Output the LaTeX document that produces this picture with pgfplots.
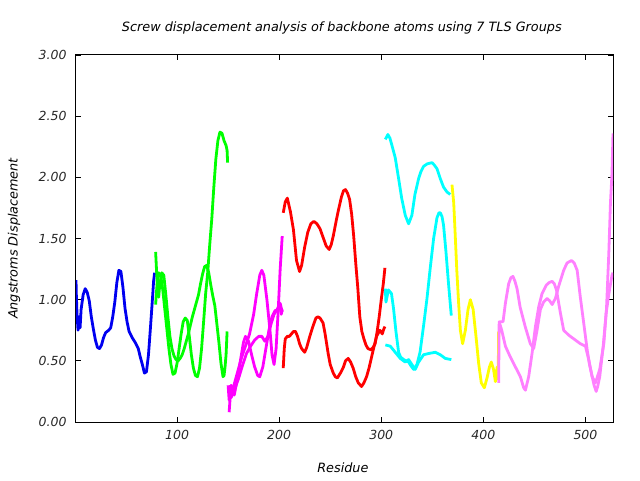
\documentclass[border=0pt]{standalone}
\usepackage{pgfplots}
\pgfplotsset{compat=1.18}
\usepackage{fontspec}
\setmainfont{DejaVu Sans}
\definecolor{tlsblue}{RGB}{0,0,240}
\definecolor{tlsgreen}{RGB}{0,255,0}
\definecolor{tlsmagenta}{RGB}{255,0,255}
\definecolor{tlsred}{RGB}{255,0,0}
\definecolor{tlscyan}{RGB}{0,255,255}
\definecolor{tlsyellow}{RGB}{255,255,0}
\definecolor{tlsviolet}{RGB}{255,128,255}
\begin{document}
\begin{tikzpicture}[x=1pt,y=1pt]
\useasboundingbox (0,0) rectangle (640,480);
\begin{axis}[
  at={(76pt,58pt)}, anchor=south west,
  width=537pt, height=367pt, scale only axis,
  xmin=1, xmax=527, ymin=0, ymax=3,
  xtick={100,200,300,400,500},
  ytick={0,0.5,1,1.5,2,2.5,3},
  yticklabel style={xshift=-6pt, /pgf/number format/.cd, fixed, fixed zerofill, precision=2},
  xticklabel style={yshift=-5pt},
  /pgf/number format/assume math mode=true,
  tick label style={font=\itshape\fontsize{12.5}{14}\selectfont, black!85},
  major tick length=5pt,
  tick style={black, line width=0.8pt},
  axis line style={black, line width=1pt},
  title={Screw displacement analysis of backbone atoms using 7 TLS Groups},
  title style={font=\itshape\fontsize{12.8}{14}\selectfont, at={(rel axis cs:0.495,1)}, anchor=base, yshift=17pt},
  xlabel={Residue},
  xlabel style={font=\itshape\fontsize{12.8}{14}\selectfont, at={(rel axis cs:0.497,0)}, anchor=base, yshift=-50pt},
  ylabel={Angstroms Displacement},
  ylabel style={font=\itshape\fontsize{12.8}{14}\selectfont, at={(rel axis cs:-0.1155,0.5)}, anchor=center},
  every axis plot/.append style={line width=2.8pt, line join=round},
]
% group 1
\addplot[tlsblue] coordinates {
(1,1.16)(1.3,1.05)(2,0.88)(3,0.75)(4,0.86)(5,0.77)(6,0.92)(8,1.04)(10,1.09)(12,1.06)
(14,0.99)(16,0.86)(18,0.76)(20,0.67)(22,0.61)(24,0.60)(26,0.63)(28,0.69)(30,0.73)(33,0.75)
(35,0.77)(37,0.86)(39,0.98)(41,1.14)(43,1.24)(45,1.23)(47,1.10)(49,0.93)(51,0.82)(53,0.74)
(56,0.69)(59,0.65)(62,0.60)(64,0.53)(66,0.47)(68,0.40)(70,0.41)(72,0.55)(74,0.78)(76,1.02)
(77,1.15)(78,1.22)};
% group 2
\addplot[tlsgreen] coordinates {
(79,0.96)(80,1.08)(81,1.18)(82,1.22)(84,1.20)(86,1.08)(88,0.92)(90,0.76)(92,0.60)(94,0.47)
(96,0.39)(98,0.40)(100,0.48)(102,0.60)(104,0.72)(106,0.82)(108,0.85)(110,0.83)(112,0.70)
(114,0.55)(116,0.44)(118,0.38)(120,0.37)(122,0.44)(124,0.60)(126,0.82)(128,1.05)(130,1.22)
(132,1.45)(134,1.66)(136,1.92)(138,2.15)(140,2.30)(142,2.37)(144,2.36)(146,2.30)(148,2.26)
(149,2.22)(149.5,2.12)};
\addplot[tlsgreen] coordinates {
(79,1.39)(80,1.22)(81,1.08)(82,1.02)(83,1.12)(85,1.22)(87,1.20)(89,1.04)(91,0.86)(93,0.70)
(95,0.60)(97,0.54)(99,0.51)(101,0.50)(103,0.52)(105,0.55)(107,0.60)(109,0.66)(111,0.72)
(113,0.79)(115,0.86)(117,0.92)(119,0.98)(121,1.04)(123,1.13)(125,1.21)(127,1.27)(129,1.28)
(131,1.22)(133,1.12)(135,1.03)(137,0.95)(139,0.80)(141,0.65)(143,0.48)(145,0.37)(146,0.38)
(147,0.45)(148,0.55)(149,0.74)};
% group 3
\addplot[tlsmagenta] coordinates {
(150,0.30)(151,0.18)(153,0.30)(156,0.22)(159,0.35)(162,0.50)(165,0.65)(167,0.70)(170,0.66)
(173,0.55)(176,0.45)(179,0.38)(181,0.37)(184,0.45)(187,0.60)(190,0.75)(193,0.86)(196,0.91)
(199,0.92)(201,0.95)(202,0.88)(203,0.92)};
\addplot[tlsmagenta] coordinates {
(151,0.28)(153,0.20)(156,0.26)(160,0.35)(164,0.46)(168,0.56)(172,0.62)(176,0.67)(180,0.70)
(183,0.70)(186,0.66)(189,0.70)(192,0.80)(195,0.88)(198,0.92)(201,0.97)(203,0.90)};
\addplot[tlsmagenta] coordinates {
(151,0.08)(152,0.20)(155,0.28)(159,0.40)(163,0.52)(167,0.62)(171,0.72)(175,0.88)(178,1.05)
(181,1.20)(183,1.24)(185,1.20)(188,1.00)(191,0.75)(193,0.55)(195,0.47)(197,0.60)(199,0.90)
(201,1.25)(203,1.52)};
% group 4
\addplot[tlsred] coordinates {
(204,1.71)(206,1.80)(208,1.83)(211,1.72)(214,1.57)(217,1.32)(220,1.23)(222,1.28)(225,1.43)
(228,1.55)(231,1.62)(234,1.64)(237,1.62)(240,1.58)(243,1.51)(246,1.44)(249,1.41)(251,1.45)
(253,1.52)(256,1.65)(258,1.73)(261,1.84)(263,1.89)(265,1.90)(267,1.87)(269,1.82)(271,1.70)
(273,1.52)(275,1.30)(277,1.10)(279,0.86)(281,0.74)(283,0.68)(285,0.63)(287,0.60)(290,0.59)
(292,0.61)(294,0.64)(296,0.74)(298,0.86)(300,1.00)(302,1.13)(303.6,1.26)};
\addplot[tlsred] coordinates {
(204,0.44)(205,0.60)(206,0.68)(208,0.70)(210,0.70)(212,0.72)(214,0.74)(216,0.74)(218,0.70)
(220,0.64)(222,0.60)(225,0.57)(227,0.61)(230,0.70)(233,0.78)(236,0.85)(238,0.86)(240,0.85)
(243,0.81)(245,0.72)(248,0.56)(250,0.47)(253,0.40)(255,0.37)(257,0.36)(260,0.40)(263,0.45)
(265,0.50)(267.6,0.52)(270,0.49)(272.5,0.44)(275,0.37)(277.5,0.32)(280.7,0.29)(283,0.32)
(285.6,0.37)(288,0.44)(290.5,0.53)(293,0.62)(295.4,0.70)(298.7,0.75)(301,0.72)(302.5,0.76)
(303.6,0.78)};
% group 5
\addplot[tlscyan] coordinates {
(304,2.31)(306.5,2.35)(308.5,2.32)(310.5,2.26)(313.7,2.16)(317,1.99)(320,1.83)(323.5,1.69)
(326.8,1.62)(330,1.69)(333,1.86)(336.6,1.99)(339,2.05)(341.5,2.09)(345,2.11)(349.7,2.12)
(352,2.10)(354.6,2.07)(357.8,1.99)(361,1.92)(364.4,1.88)(367.6,1.86)};
\addplot[tlscyan] coordinates {
(304,1.09)(304.6,0.98)(307,1.08)(310,1.05)(312,0.93)(314.4,0.74)(317,0.57)(319,0.53)
(322,0.51)(326.8,0.49)(329,0.46)(331.7,0.43)(335,0.47)(338,0.57)(341.5,0.79)(344.8,1.01)
(348,1.26)(351.3,1.50)(354.6,1.67)(356.5,1.71)(357.8,1.71)(359.5,1.68)(361,1.61)(363.4,1.39)
(366,1.12)(368.6,0.87)};
\addplot[tlscyan] coordinates {
(304,0.63)(308.8,0.62)(313.7,0.57)(318.6,0.52)(323.5,0.49)(326.8,0.51)(330,0.47)(333.3,0.43)
(336.6,0.49)(341.5,0.55)(346.4,0.56)(353,0.57)(357.8,0.55)(362.7,0.52)(368.6,0.51)};
% group 6
\addplot[tlsyellow] coordinates {
(369.3,1.94)(371,1.79)(372.5,1.52)(374,1.24)(375.8,0.97)(377.5,0.75)(379.7,0.64)(382.4,0.75)
(385,0.92)(387.3,1.00)(390,0.92)(392.8,0.70)(395.4,0.48)(398,0.32)(401,0.28)(403.6,0.36)
(406,0.45)(407.8,0.49)(410,0.43)(411.8,0.33)(413.5,0.45)(414.5,0.35)(415,0.74)};
% group 7
\addplot[tlsviolet] coordinates {
(416,0.82)(419.3,0.82)(421.6,0.97)(424.8,1.13)(427,1.18)(429,1.19)(431,1.15)(433,1.09)
(436,0.94)(441,0.78)(446,0.64)(449.3,0.60)(452.6,0.75)(455.9,0.92)(459,0.98)(462.4,1.01)
(465,0.99)(467.4,0.96)(470.6,1.01)(473.8,1.11)(478.7,1.24)(482,1.30)(486.3,1.32)(489,1.30)
(491.9,1.24)(495,1.02)(498.3,0.81)(501.7,0.59)(504,0.47)(506.6,0.37)(508.5,0.30)(510.5,0.25)
(512,0.29)(514,0.37)(517.4,0.62)(520.6,0.92)(522.9,1.38)(524.5,1.79)(526,2.03)(527,2.36)};
\addplot[tlsviolet] coordinates {
(415,0.32)(415.5,0.82)(418,0.75)(421.6,0.62)(426.5,0.53)(431.4,0.45)(436.3,0.37)(439.5,0.28)
(441.2,0.26)(444.4,0.37)(447.7,0.56)(451,0.78)(454.2,0.94)(457.5,1.05)(461.8,1.12)(464.5,1.14)
(467.4,1.15)(469.5,1.13)(471.6,1.08)(475.5,0.89)(478.7,0.75)(483.6,0.71)(488.5,0.68)(495,0.64)
(500,0.62)(503.2,0.51)(506.6,0.37)(509.8,0.32)(514,0.43)(518,0.64)(520.3,0.89)(523,1.05)
(526,1.20)(527,1.22)};
\end{axis}
\end{tikzpicture}
\end{document}
